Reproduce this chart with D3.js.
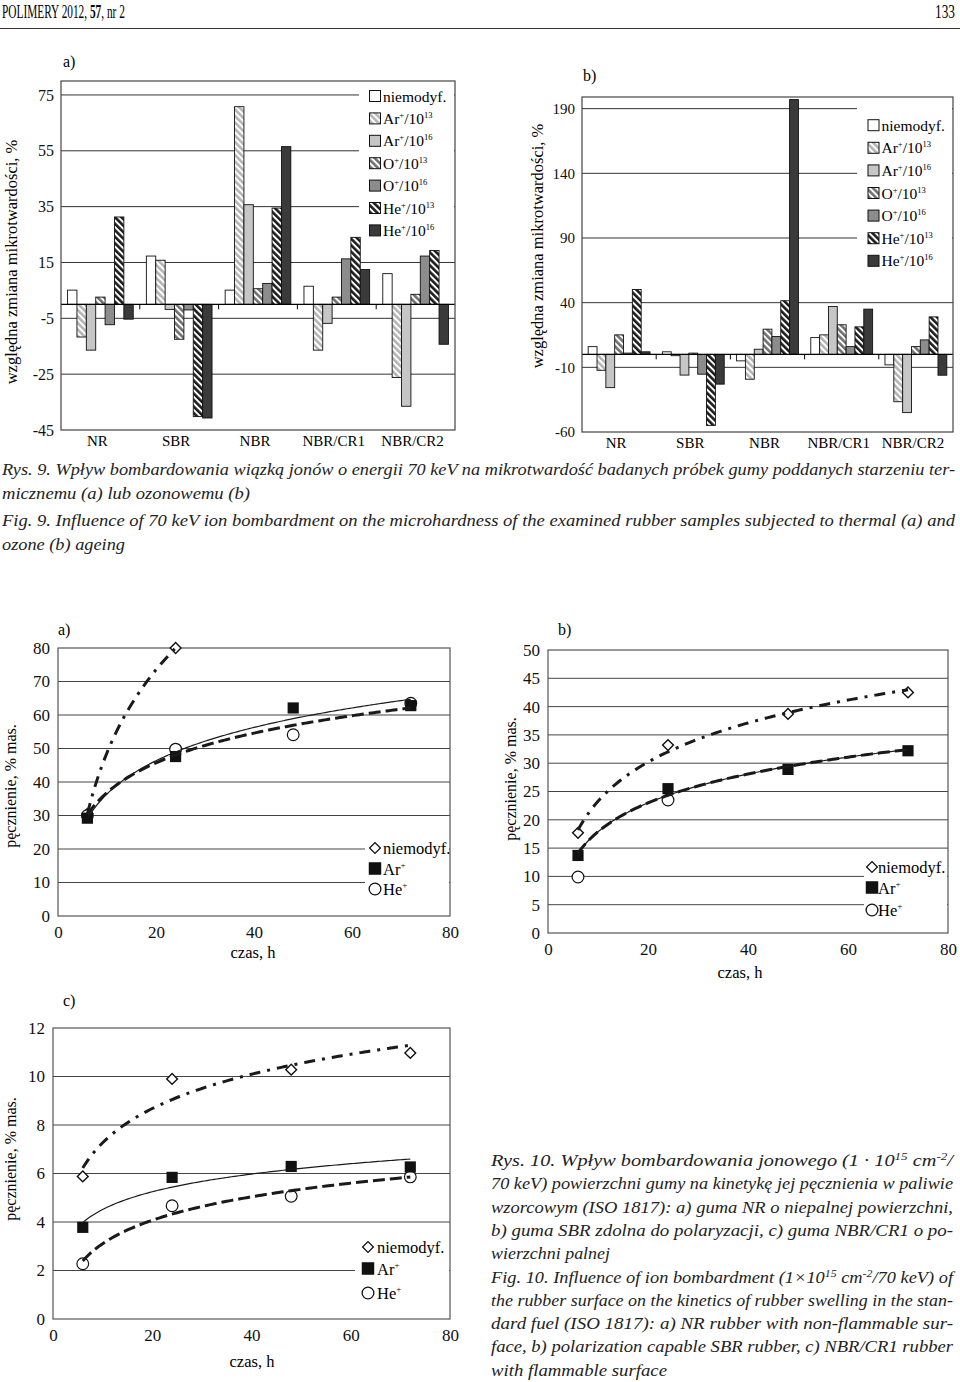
<!DOCTYPE html>
<html>
<head>
<meta charset="utf-8">
<title>POLIMERY 2012 - Rys. 9, Rys. 10</title>
<script src="https://cdn.jsdelivr.net/npm/d3@7"></script>
<style>
  body { margin: 0; background: #fff; }
  svg { display: block; font-family: "Liberation Serif", "Times New Roman", serif; }
</style>
</head>
<body>
<svg id="page" width="960" height="1382"></svg>
<script>
// ---------- Rys. 9: microhardness change, % ----------
const categories = ["NR", "SBR", "NBR", "NBR/CR1", "NBR/CR2"];
const barLegend = ["niemodyf.", "Ar^{+}/10^{13}", "Ar^{+}/10^{16}", "O^{+}/10^{13}",
                   "O^{+}/10^{16}", "He^{+}/10^{13}", "He^{+}/10^{16}"];

// a) thermal ageing
const aNiemod = [5.1, 17.3, 5.1, 6.5, 11];
const aAr13   = [-11.7, 15.8, 70.8, -16.4, -26.2];
const aAr16   = [-16.4, -1.8, 35.7, -6.8, -36.5];
const aO13    = [2.6, -12.5, 5.6, 2.6, 3.6];
const aO16    = [-7.3, -2, 7.5, 16.3, 17.3];
const aHe13   = [31.3, -40.2, 34.5, 24, 19.3];
const aHe16   = [-5.3, -40.7, 56.5, 12.5, -14.3];
const ticksBarA = [75, 55, 35, 15, -5, -25, -45];

// b) ozone ageing
const bNiemod = [6, 2, -5, 13, -8.1];
const bAr13   = [-12.3, -1, -19.2, 15.1, -36.6];
const bAr16   = [-25.7, -16, 4, 37, -45];
const bO13    = [15.1, 1, 19.5, 22.9, 6];
const bO16    = [1, -15.3, 13.8, 6, 11.2];
const bHe13   = [50.2, -54.9, 41.5, 21.3, 29];
const bHe16   = [2, -23, 197, 35, -16.1];
const ticksBarB = [190, 140, 90, 40, -10, -60];

// ---------- Rys. 10: swelling, % mas. vs time, h ----------
const times = [6, 24, 48, 72];
const xTicks = [0, 20, 40, 60, 80];
const lineLegend = ["niemodyf.", "Ar^{+}", "He^{+}"];

const swA_niemod = [30.5, 80, null, null];
const swA_ar     = [29.2, 47.6, 62.1, 62.8];
const swA_he     = [30, 49.8, 54.1, 63.5];
const ticksSwA   = [0, 10, 20, 30, 40, 50, 60, 70, 80];

const swB_niemod = [17.7, 33.2, 38.7, 42.5];
const swB_ar     = [13.7, 25.5, 28.9, 32.2];
const swB_he     = [9.9, 23.5, null, null];
const ticksSwB   = [0, 5, 10, 15, 20, 25, 30, 35, 40, 45, 50];

const swC_niemod = [5.88, 9.9, 10.28, 10.97];
const swC_ar     = [3.78, 5.84, 6.29, 6.27];
const swC_he     = [2.28, 4.67, 5.06, 5.86];
const ticksSwC   = [0, 2, 4, 6, 8, 10, 12];

// ---------- captions ----------
const rys9 = [
  "Rys. 9. Wpływ bombardowania wiązką jonów o energii 70 keV na mikrotwardość badanych próbek gumy poddanych starzeniu ter-",
  "micznemu (a) lub ozonowemu (b)",
  "Fig. 9. Influence of 70 keV ion bombardment on the microhardness of the examined rubber samples subjected to thermal (a) and",
  "ozone (b) ageing"
];
const rys10 = [
  "Rys. 10. Wpływ bombardowania jonowego (1 · 10^{15} cm^{-2}/",
  "70 keV) powierzchni gumy na kinetykę jej pęcznienia w paliwie",
  "wzorcowym (ISO 1817): a) guma NR o niepalnej powierzchni,",
  "b) guma SBR zdolna do polaryzacji, c) guma NBR/CR1 o po-",
  "wierzchni palnej",
  "Fig. 10. Influence of ion bombardment (1×10^{15} cm^{-2}/70 keV) of",
  "the rubber surface on the kinetics of rubber swelling in the stan-",
  "dard fuel (ISO 1817): a) NR rubber with non-flammable sur-",
  "face, b) polarization capable SBR rubber, c) NBR/CR1 rubber",
  "with flammable surface"
];

const svg = d3.select("#page");
svg.append("rect").attr("width", 960).attr("height", 1382).attr("fill", "#fff");
const defs = svg.append("defs");

// diagonal "\" hatch
function hatch(id, color) {
  const p = defs.append("pattern").attr("id", id)
    .attr("patternUnits", "userSpaceOnUse")
    .attr("width", 4.6).attr("height", 4.6)
    .attr("patternTransform", "rotate(-45)");
  p.append("rect").attr("width", 4.6).attr("height", 4.6).attr("fill", "#fff");
  p.append("rect").attr("width", 2.6).attr("height", 4.6).attr("fill", color);
}
hatch("hAr", "#b4b4b4");
hatch("hO", "#707070");
hatch("hHe", "#1c1c1c");
const barFills = ["#fff", "url(#hAr)", "#c6c6c6", "url(#hO)", "#8c8c8c", "url(#hHe)", "#3a3a3a"];

// text with ^{...} superscripts
function rich(t, str, supSize, rise) {
  const parts = str.split(/\^\{(.*?)\}/);
  let up = false;
  parts.forEach((p, i) => {
    if (p === "") return;
    const ts = t.append("tspan").text(p);
    if (i % 2 === 1) { ts.attr("font-size", supSize).attr("dy", -rise); up = true; }
    else if (up) { ts.attr("dy", rise); up = false; }
  });
  return t;
}

// squeeze a text horizontally to a given width (condensed running head)
function fitWidth(t, x, y, w, anchorEnd) {
  const nat = t.node().getComputedTextLength();
  const s = w / nat;
  const x0 = anchorEnd ? x - w : x;
  t.attr("x", 0).attr("y", 0).attr("transform", `translate(${x0},${y}) scale(${s},1)`);
}

function yTitle(x, y, text, size) {
  svg.append("text").attr("transform", `translate(${x},${y}) rotate(-90)`)
    .attr("text-anchor", "middle").attr("font-size", size).text(text);
}

// ---------- bar charts ----------
function barChart(o) {
  const g = svg.append("g");
  const x = d3.scaleBand().domain(categories).range([o.x0, o.x1]);
  const xs = d3.scaleBand().domain(d3.range(7)).range([0, x.bandwidth()]).paddingOuter(0.7);
  const y = d3.scaleLinear().domain(o.domain).range([o.y1, o.y0]);

  g.selectAll(".grid").data(o.ticks.slice(0, -1)).join("line")
    .attr("x1", o.x0).attr("x2", o.x1)
    .attr("y1", d => y(d)).attr("y2", d => y(d))
    .attr("stroke", "#333").attr("stroke-width", 1);

  // legend background hides the gridlines behind it
  g.append("rect").attr("x", o.cover[0]).attr("y", o.cover[1])
    .attr("width", o.x1 - o.cover[0] - 1).attr("height", o.cover[2]).attr("fill", "#fff");

  o.values.forEach((vals, si) => {
    g.append("g").selectAll("rect").data(vals).join("rect")
      .attr("x", (d, i) => x(categories[i]) + xs(si))
      .attr("width", xs.bandwidth())
      .attr("y", d => y(Math.max(0, d)))
      .attr("height", d => Math.abs(y(d) - y(0)))
      .attr("fill", barFills[si]).attr("stroke", "#111").attr("stroke-width", 0.9);
  });

  // zero axis with category ticks
  g.append("line").attr("x1", o.x0).attr("x2", o.x1).attr("y1", y(0)).attr("y2", y(0))
    .attr("stroke", "#000").attr("stroke-width", 1.2);
  g.selectAll(".ctick").data(categories.slice(1)).join("line")
    .attr("x1", d => x(d)).attr("x2", d => x(d))
    .attr("y1", y(0)).attr("y2", y(0) + 5).attr("stroke", "#000");

  g.append("rect").attr("x", o.x0).attr("y", o.y0)
    .attr("width", o.x1 - o.x0).attr("height", o.y1 - o.y0)
    .attr("fill", "none").attr("stroke", "#444").attr("stroke-width", 1.2);

  const ax = g.append("g").attr("transform", `translate(${o.x0},0)`)
    .call(d3.axisLeft(y).tickValues(o.ticks).tickSize(0).tickPadding(7).tickFormat(d => String(d)));
  ax.select(".domain").remove();
  ax.selectAll("text").attr("font-family", "Liberation Serif").attr("font-size", o.font).attr("fill", "#111");

  g.selectAll(".clab").data(categories).join("text")
    .attr("x", d => x(d) + x.bandwidth() / 2 - 3).attr("y", o.y1 + 16)
    .attr("text-anchor", "middle").attr("font-size", 15).text(d => d);

  const lg = g.append("g");
  barLegend.forEach((lab, i) => {
    const cy = o.legend.y + i * o.legend.dy;
    lg.append("rect").attr("x", o.legend.x).attr("y", cy - 6).attr("width", 11).attr("height", 11)
      .attr("fill", barFills[i]).attr("stroke", "#111");
    rich(lg.append("text").attr("x", o.legend.tx).attr("y", cy + 5).attr("font-size", o.legend.size),
      lab, 8.5, 6);
  });

  svg.append("text").attr("x", o.tag[0]).attr("y", o.tag[1]).attr("font-size", 16).text(o.tag[2]);
  yTitle(o.ylab[0], o.ylab[1], "względna zmiana mikrotwardości, %", 16.5);
}

barChart({
  x0: 61, x1: 455, y0: 81, y1: 430, domain: [-45, 80], ticks: ticksBarA,
  values: [aNiemod, aAr13, aAr16, aO13, aO16, aHe13, aHe16],
  cover: [359, 82, 160], font: 16,
  legend: { x: 369.5, y: 96.5, dy: 22.4, tx: 383, size: 15.5 },
  tag: [63, 67, "a)"], ylab: [17, 262]
});
barChart({
  x0: 582, x1: 953, y0: 97, y1: 432, domain: [-60, 199], ticks: ticksBarB,
  values: [bNiemod, bAr13, bAr16, bO13, bO16, bHe13, bHe16],
  cover: [857, 98, 175], font: 15,
  legend: { x: 868, y: 125.7, dy: 22.6, tx: 881.5, size: 15.5 },
  tag: [583, 81, "b)"], ylab: [543, 246]
});

// ---------- swelling line charts ----------
function logFit(vals) {
  const pts = times.map((t, i) => [Math.log(t), vals[i]]).filter(p => p[1] != null);
  const mx = d3.mean(pts, p => p[0]), my = d3.mean(pts, p => p[1]);
  const sxy = d3.sum(pts, p => (p[0] - mx) * (p[1] - my));
  const sxx = d3.sum(pts, p => (p[0] - mx) ** 2);
  const a = sxy / sxx, b = my - a * mx;
  const used = times.filter((t, i) => vals[i] != null);
  return { f: t => a * Math.log(t) + b, t0: d3.min(used), t1: d3.max(used) };
}

function lineChart(o) {
  const g = svg.append("g");
  const x = d3.scaleLinear().domain([0, 80]).range([o.x0, o.x1]);
  const y = d3.scaleLinear().domain([0, d3.max(o.yticks)]).range([o.y1, o.y0]);

  g.selectAll(".grid").data(o.yticks.slice(1, -1)).join("line")
    .attr("x1", o.x0).attr("x2", o.x1)
    .attr("y1", d => y(d)).attr("y2", d => y(d))
    .attr("stroke", "#444").attr("stroke-width", 1);
  g.append("rect").attr("x", o.cover[0]).attr("y", o.cover[1])
    .attr("width", o.x1 - o.cover[0] - 1).attr("height", o.cover[2]).attr("fill", "#fff");

  g.append("rect").attr("x", o.x0).attr("y", o.y0)
    .attr("width", o.x1 - o.x0).attr("height", o.y1 - o.y0)
    .attr("fill", "none").attr("stroke", "#555").attr("stroke-width", 1.2);

  const diamond = d3.symbol(d3.symbolSquare, 58)();
  const square = d3.symbol(d3.symbolSquare, 125)();
  const circle = d3.symbol(d3.symbolCircle, 108)();

  const pts = (vals) => times.map((t, i) => [t, vals[i]]).filter(p => p[1] != null);
  g.selectAll(".mn").data(pts(o.niemod)).join("path").attr("d", diamond)
    .attr("transform", d => `translate(${x(d[0])},${y(d[1])}) rotate(45)`)
    .attr("fill", "#fff").attr("stroke", "#111").attr("stroke-width", 1.4);
  g.selectAll(".mh").data(pts(o.he)).join("path").attr("d", circle)
    .attr("transform", d => `translate(${x(d[0])},${y(d[1])})`)
    .attr("fill", "#fff").attr("stroke", "#111").attr("stroke-width", 1.2);
  g.selectAll(".ma").data(pts(o.ar)).join("path").attr("d", square)
    .attr("transform", d => `translate(${x(d[0])},${y(d[1])})`)
    .attr("fill", "#111");

  const line = d3.line().x(d => x(d[0])).y(d => y(d[1]));
  o.trends.forEach(tr => {
    const fit = logFit(tr.src);
    const ts = d3.range(fit.t0, fit.t1 + 0.01, 0.5);
    g.append("path").attr("d", line(ts.map(t => [t, fit.f(t)])))
      .attr("fill", "none").attr("stroke", "#1a1a1a")
      .attr("stroke-width", tr.w).attr("stroke-dasharray", tr.dash || null);
  });

  const ay = g.append("g").attr("transform", `translate(${o.x0},0)`)
    .call(d3.axisLeft(y).tickValues(o.yticks).tickSize(0).tickPadding(8).tickFormat(d => String(d)));
  ay.select(".domain").remove();
  ay.selectAll("text").attr("font-family", "Liberation Serif").attr("font-size", 17).attr("fill", "#111");

  const axx = g.append("g").attr("transform", `translate(0,${o.y1})`)
    .call(d3.axisBottom(x).tickValues(xTicks).tickSize(0).tickPadding(10).tickFormat(d => String(d)));
  axx.select(".domain").remove();
  axx.selectAll("text").attr("font-family", "Liberation Serif").attr("font-size", 17).attr("fill", "#111");

  svg.append("text").attr("x", o.xlab[0]).attr("y", o.xlab[1]).attr("text-anchor", "middle")
    .attr("font-size", 16.5).text("czas, h");
  svg.append("text").attr("x", o.tag[0]).attr("y", o.tag[1]).attr("font-size", 16).text(o.tag[2]);
  yTitle(o.ylab[0], o.ylab[1], "pęcznienie, % mas.", 16);

  const marks = [diamond, square, circle];
  lineLegend.forEach((lab, i) => {
    const cy = o.legend.y[i];
    g.append("path").attr("d", marks[i])
      .attr("transform", `translate(${o.legend.x},${cy})` + (i === 0 ? " rotate(45)" : ""))
      .attr("fill", i === 1 ? "#111" : "#fff").attr("stroke", "#111").attr("stroke-width", 1.3);
    rich(g.append("text").attr("x", o.legend.tx).attr("y", cy + 6).attr("font-size", 16.5), lab, 9, 7);
  });
}

const dashHe = "12,5", dashNiemod = "11,7,3,7";

lineChart({
  x0: 58, x1: 450, y0: 648, y1: 916, yticks: ticksSwA,
  niemod: swA_niemod, ar: swA_ar, he: swA_he,
  trends: [{ src: swA_niemod, w: 3, dash: dashNiemod }, { src: swA_he, w: 3, dash: dashHe },
           { src: swA_ar, w: 1.2 }],
  cover: [365, 838, 64], legend: { x: 375, tx: 383, y: [848, 868.5, 889] },
  xlab: [253, 958], tag: [58, 635, "a)"], ylab: [16, 786]
});
lineChart({
  x0: 548, x1: 948, y0: 650, y1: 933, yticks: ticksSwB,
  niemod: swB_niemod, ar: swB_ar, he: swB_he,
  trends: [{ src: swB_niemod, w: 3, dash: dashNiemod }, { src: swB_ar, w: 3, dash: dashHe },
           { src: swB_ar, w: 1.2 }],
  cover: [864, 858, 66], legend: { x: 872, tx: 878, y: [867, 887.5, 910] },
  xlab: [740, 978], tag: [558, 635, "b)"], ylab: [516, 779]
});
lineChart({
  x0: 53, x1: 450, y0: 1028, y1: 1319, yticks: ticksSwC,
  niemod: swC_niemod, ar: swC_ar, he: swC_he,
  trends: [{ src: swC_niemod, w: 3, dash: dashNiemod }, { src: swC_he, w: 3, dash: dashHe },
           { src: swC_ar, w: 1.2 }],
  cover: [355, 1234, 78], legend: { x: 368, tx: 377, y: [1247, 1268.5, 1293] },
  xlab: [252, 1367], tag: [63, 1006, "c)"], ylab: [16, 1159]
});

// ---------- page header & captions ----------
const head = svg.append("text").attr("font-size", 19);
head.append("tspan").text("POLIMERY 2012, ");
head.append("tspan").attr("font-weight", "bold").text("57");
head.append("tspan").text(", nr 2");
fitWidth(head, 2, 18, 123, false);
const pageNo = svg.append("text").attr("font-size", 19).text("133");
fitWidth(pageNo, 955, 18, 20, true);
svg.append("line").attr("x1", 0).attr("x2", 960).attr("y1", 28.5).attr("y2", 28.5)
  .attr("stroke", "#333").attr("stroke-width", 1);

const rys9W = [953, 248, 953, 123];
const rys9Y = [475, 499, 526, 550];
rys9.forEach((s, i) => {
  svg.append("text").attr("x", 2).attr("y", rys9Y[i]).attr("font-size", 17)
    .attr("font-style", "italic").attr("fill", "#222")
    .attr("textLength", rys9W[i]).attr("lengthAdjust", "spacingAndGlyphs").text(s);
});

const rys10W = [462, 462, 462, 462, 119, 462, 462, 462, 462, 176];
rys10.forEach((s, i) => {
  const t = svg.append("text").attr("x", 491).attr("y", 1166 + i * 23.3).attr("font-size", 17)
    .attr("font-style", "italic").attr("fill", "#222")
    .attr("textLength", rys10W[i]).attr("lengthAdjust", "spacingAndGlyphs");
  rich(t, s, 11, 6);
});
</script>
</body>
</html>
